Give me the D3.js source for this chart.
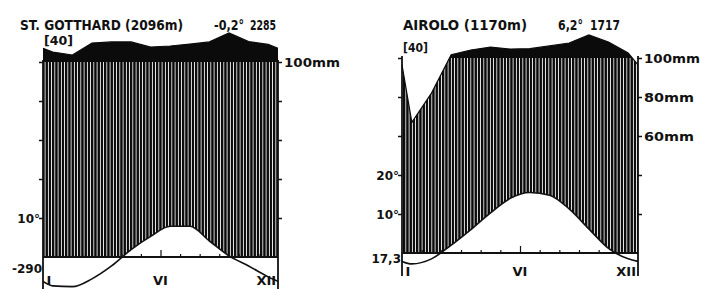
<!DOCTYPE html>
<html>
<head>
<meta charset="utf-8">
<script src="https://cdn.jsdelivr.net/npm/d3@7"></script>
<style>
  body { margin: 0; background: #fff; }
  svg { display: block; }
  text { font-family: "DejaVu Sans", "Liberation Sans", sans-serif; font-weight: bold; fill: #111; }
</style>
</head>
<body>
<div id="graf"></div>
<script>
// monthly values (Jan .. Dec)
const months = ["I", "II", "III", "IV", "V", "VI", "VII", "VIII", "IX", "X", "XI", "XII"];
const gotthardTemp = [-7.4, -7.6, -5.6, -2.3, 1.9, 5.3, 7.9, 7.9, 4.1, 0.3, -2.3, -5.1];
const gotthardPrec = [151, 136, 197, 203, 203, 177, 182, 192, 203, 249, 205, 190];
const airoloTemp = [-2.8, -1.5, 2, 6, 10.3, 14, 15.5, 14.8, 11.3, 6.2, 1.2, -1.5];
const airoloPrec = [67, 82, 117, 141, 156, 146, 148, 162, 177, 218, 182, 126];
const tempTicks = [10, 20, 30, 40, 50];
const monthLabels = ["I", "VI", "XII"];

const svg = d3.select("#graf").append("svg").attr("width", 705).attr("height", 289);

const defs = svg.append("defs");
const pat = defs.append("pattern")
    .attr("id", "hatch")
    .attr("patternUnits", "userSpaceOnUse")
    .attr("width", 3.25)
    .attr("height", 10);
pat.append("rect").attr("width", 3.25).attr("height", 10).attr("fill", "#fff");
pat.append("rect").attr("width", 2.4).attr("height", 10).attr("fill", "#0b0b0b");

function drawPanel(id, p) {
    const g = svg.append("g");
    const x = d3.scaleLinear().domain([0, 12]).range([p.x0, p.x1]);
    // 10 °C = 20 mm = 39 px
    const yT = d3.scaleLinear().domain([-10, 50]).range([p.base + 39, p.base - 195]);
    // above 100 mm the scale is reduced to 1/10
    const yP = d3.scaleLinear().domain([0, 100, 300]).range([p.base, p.base - 195, p.base - 234]);
    const top = yP(100);

    // wrap around so the curves reach both edges
    const wrap = (arr) => {
        const edge = (arr[0] + arr[11]) / 2;
        return [{ m: 0, v: edge }]
            .concat(arr.map((v, i) => ({ m: i + 0.5, v: v })))
            .concat([{ m: 12, v: edge }]);
    };
    const tData = wrap(p.temp);
    const pData = wrap(p.prec);

    defs.append("clipPath").attr("id", id + "-above")
        .append("rect").attr("x", p.x0).attr("y", 0).attr("width", p.x1 - p.x0).attr("height", top);
    defs.append("clipPath").attr("id", id + "-below")
        .append("rect").attr("x", p.x0).attr("y", top).attr("width", p.x1 - p.x0).attr("height", p.base - top);

    // black part (> 100 mm)
    g.append("path")
        .datum(pData)
        .attr("clip-path", `url(#${id}-above)`)
        .attr("fill", "#0b0b0b")
        .attr("d", d3.area().x((d) => x(d.m)).y0(top + 1).y1((d) => yP(d.v)));

    // humid period, vertical hatching
    g.append("path")
        .datum(pData)
        .attr("clip-path", `url(#${id}-below)`)
        .attr("fill", "url(#hatch)")
        .attr("d", d3.area().x((d) => x(d.m)).y0(p.base).y1((d) => yP(d.v)));

    // white under the temperature curve
    g.append("path")
        .datum(tData)
        .attr("clip-path", `url(#${id}-below)`)
        .attr("fill", "#fff")
        .attr("d", d3.area().curve(d3.curveMonotoneX).x((d) => x(d.m)).y0(p.base).y1((d) => yT(d.v)));

    // precipitation edge
    g.append("path")
        .datum(pData)
        .attr("fill", "none")
        .attr("stroke", "#0b0b0b")
        .attr("stroke-width", 1.2)
        .attr("d", d3.line().x((d) => x(d.m)).y((d) => yP(d.v)));

    // temperature curve
    g.append("path")
        .datum(tData)
        .attr("fill", "none")
        .attr("stroke", "#111")
        .attr("stroke-width", 1.6)
        .attr("d", d3.line().curve(d3.curveMonotoneX).x((d) => x(d.m)).y((d) => yT(d.v)));

    // month ticks on the zero line
    const xAxis = d3.axisTop(x).tickValues(d3.range(1, 12)).tickSize(3).tickFormat("");
    const xg = g.append("g").attr("transform", `translate(0, ${p.base})`).call(xAxis);
    xg.select(".domain").remove();
    xg.selectAll(".tick line").attr("stroke", "#111").attr("stroke-width", 1.2)
        .attr("y2", (d) => (d == 6 ? -7 : -3));

    // zero line
    g.append("line")
        .attr("x1", p.x0).attr("x2", p.x1)
        .attr("y1", p.base).attr("y2", p.base)
        .attr("stroke", "#111").attr("stroke-width", 1.8);

    // frame sides
    [p.x0, p.x1].forEach((xx) => {
        g.append("line")
            .attr("x1", xx).attr("x2", xx)
            .attr("y1", top - 2).attr("y2", p.bottom)
            .attr("stroke", "#111").attr("stroke-width", 1.8);
    });

    // temperature ticks
    const yl = g.append("g").attr("transform", `translate(${p.x0}, 0)`)
        .call(d3.axisLeft(yT).tickValues(tempTicks).tickSize(4).tickFormat(""));
    const yr = g.append("g").attr("transform", `translate(${p.x1}, 0)`)
        .call(d3.axisRight(yT).tickValues(tempTicks).tickSize(4).tickFormat(""));
    [yl, yr].forEach((a) => {
        a.select(".domain").remove();
        a.selectAll(".tick line").attr("stroke", "#111").attr("stroke-width", 1.5);
    });

    // titles
    g.append("text").attr("x", p.titleX).attr("y", 30)
        .attr("font-size", 14).attr("textLength", p.titleW).attr("lengthAdjust", "spacingAndGlyphs")
        .text(p.title);
    g.append("text").attr("x", p.x0 + 1).attr("y", p.yearsY)
        .attr("font-size", 12).attr("textLength", p.yearsW).attr("lengthAdjust", "spacingAndGlyphs")
        .text("[40]");
    g.append("text").attr("x", p.meanX).attr("y", 30).attr("font-size", 14)
        .attr("textLength", p.meanW).attr("lengthAdjust", "spacingAndGlyphs").text(p.mean);
    g.append("text").attr("x", p.sumX).attr("y", 30).attr("font-size", 14)
        .attr("textLength", p.sumW).attr("lengthAdjust", "spacingAndGlyphs").text(p.sum);

    // mm labels on the right
    p.mmTicks.forEach((v) => {
        g.append("text").attr("x", p.x1 + 6).attr("y", yP(v) + 5)
            .attr("font-size", 13).attr("textLength", v == 100 ? 56 : 50).attr("lengthAdjust", "spacingAndGlyphs")
            .text(`${v}mm`);
    });

    // degree labels on the left
    p.degLabels.forEach((v) => {
        g.append("text").attr("x", p.x0 - 3).attr("y", yT(v) + 5)
            .attr("text-anchor", "end").attr("font-size", 12).text(`${v}°`);
    });
    g.append("text").attr("x", p.x0 - 1).attr("y", p.minY)
        .attr("text-anchor", "end").attr("font-size", 12).text(p.absMin);

    // month labels
    const labPos = { I: 0.3, VI: 6, XII: 11.4 };
    monthLabels.forEach((m) => {
        g.append("text").attr("x", x(labPos[m])).attr("y", p.monthY)
            .attr("text-anchor", "middle").attr("font-size", 13).text(m);
    });
}

drawPanel("gott", {
    x0: 43, x1: 278, base: 257, bottom: 289,
    temp: gotthardTemp, prec: gotthardPrec,
    title: "ST. GOTTHARD (2096m)", titleX: 20, titleW: 163,
    yearsY: 45, yearsW: 29,
    mean: "-0,2°", meanX: 214, meanW: 30, sum: "2285", sumX: 250, sumW: 26,
    mmTicks: [100], degLabels: [10],
    absMin: "-290", minY: 273, monthY: 285,
});

drawPanel("airolo", {
    x0: 402, x1: 638, base: 253, bottom: 276,
    temp: airoloTemp, prec: airoloPrec,
    title: "AIROLO (1170m)", titleX: 403, titleW: 124,
    yearsY: 52, yearsW: 25,
    mean: "6,2°", meanX: 558, meanW: 25, sum: "1717", sumX: 590, sumW: 30,
    mmTicks: [100, 80, 60], degLabels: [20, 10],
    absMin: "17,3", minY: 263, monthY: 276,
});
</script>
</body>
</html>
